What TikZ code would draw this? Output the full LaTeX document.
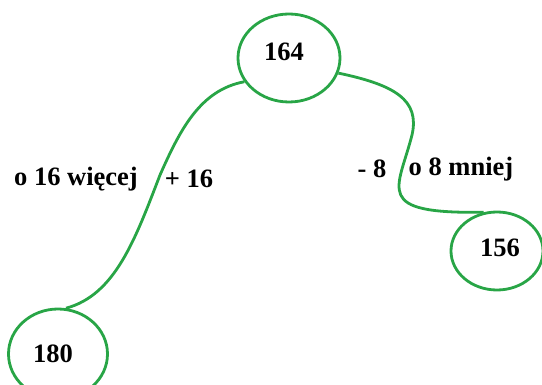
\documentclass[tikz,border=0pt]{standalone}
\usepackage{fontspec}
\setmainfont{Liberation Serif}
\usetikzlibrary{shapes.geometric}
\definecolor{lgreen}{RGB}{40,165,70}
\begin{document}
\begin{tikzpicture}[x=1pt,y=-1pt,
  num/.style={draw=lgreen,line width=2.8pt,ellipse,inner sep=0pt},
  lab/.style={inner sep=0pt,font=\fontsize{26.5}{31}\selectfont\bfseries},
  link/.style={draw=lgreen,line width=2.8pt}]
\useasboundingbox (0,0) rectangle (542,385);
\node[num,minimum width=102pt,minimum height=88pt] (a) at (289,58) {};
\node[lab] (ta) at (284,52) {164};
\node[num,minimum width=99pt,minimum height=90pt] (b) at (58,354) {};
\node[lab] (tb) at (53,354) {180};
\node[num,minimum width=92pt,minimum height=78pt] (c) at (497,251) {};
\node[lab] (tc) at (500,248) {156};
\node[lab] (l1) at (76,179) {o 16 więcej};
\node[lab] (l2) at (189,179) {+ 16};
\node[lab] (l3) at (372,169) {- 8};
\node[lab] (l4) at (461,169) {o 8 mniej};
\coordinate (m1) at (160,175);
\coordinate (m2) at (412,135);
\draw[link] (a.208) .. controls (200,90) and (180,130) .. (m1)
  .. controls (135,240) and (115,295) .. (b.80);
\draw[link] (a.343) .. controls (395,85) and (420,100) .. (m2)
  .. controls (398,190) and (372,214) .. (c.109);
\end{tikzpicture}
\end{document}
